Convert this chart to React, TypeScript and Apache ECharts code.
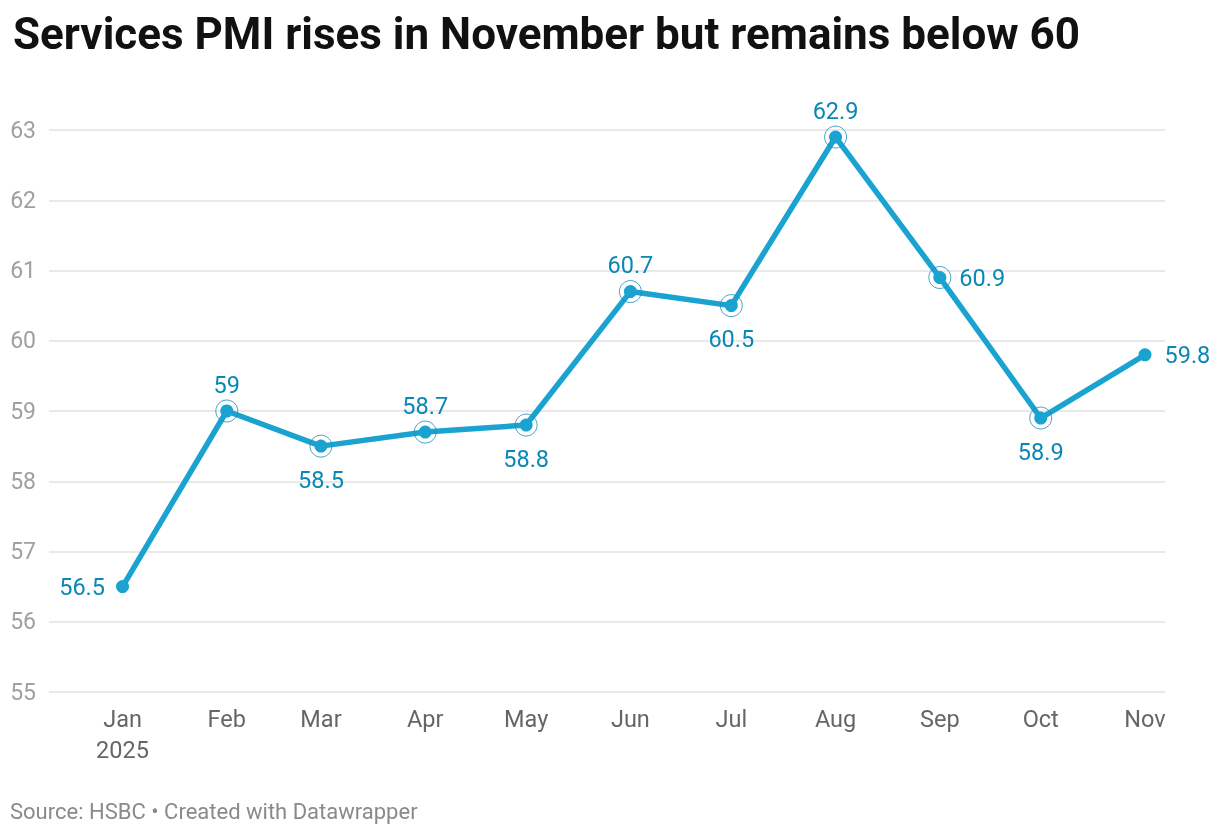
import React, { useEffect, useRef } from "react";
import * as echarts from "echarts";

const months = ["Jan", "Feb", "Mar", "Apr", "May", "Jun", "Jul", "Aug", "Sep", "Oct", "Nov"];
const dates = [
  "2025-01-01", "2025-02-01", "2025-03-01", "2025-04-01", "2025-05-01", "2025-06-01",
  "2025-07-01", "2025-08-01", "2025-09-01", "2025-10-01", "2025-11-01",
];
const yearLabel = "2025";
const pmiValues = [56.5, 59, 58.5, 58.7, 58.8, 60.7, 60.5, 62.9, 60.9, 58.9, 59.8];
const labelSides = ["left", "top", "bottom", "top", "bottom", "top", "bottom", "top", "right", "bottom", "right"];
const ringed = [false, true, true, true, true, true, true, true, true, true, false];
const yTicks = [55, 56, 57, 58, 59, 60, 61, 62, 63];

const LINE = "#1aa3d1";
const LABEL = "#0a88b3";
const FONT = "Roboto, 'Noto Sans', sans-serif";

// day number counted from 1 Jan 2025 (a linear time scale in days)
const dayIndex = (d: string) => {
  const [y, m, dd] = d.split("-").map(Number);
  return Math.round((Date.UTC(y, m - 1, dd) - Date.UTC(2025, 0, 1)) / 86400000);
};

export default function App() {
  const ref = useRef<HTMLDivElement>(null);
  useEffect(() => {
    document.body.style.margin = "0";
    const chart = echarts.init(ref.current!, null, { renderer: "svg" });
    const days = dates.map(dayIndex);
    const distFor = (s: string) => (s === "top" ? 8 : s === "bottom" ? 15 : s === "left" ? 11 : 13);
    const lineData = pmiValues.map((v, i) => ({
      value: [days[i], v],
      label: {
        show: true,
        position: labelSides[i],
        distance: distFor(labelSides[i]),
      },
    }));
    const ringData = pmiValues
      .map((v, i) => (ringed[i] ? [days[i], v] : null))
      .filter((d) => d !== null);
    chart.setOption({
      animation: false,
      textStyle: { fontFamily: FONT },
      title: {
        text: "Services PMI rises in November but remains below 60",
        left: 8,
        top: 7,
        textStyle: { fontSize: 44, fontWeight: "bold", color: "#111", fontFamily: FONT },
      },
      graphic: [
        {
          type: "text",
          left: 10,
          top: 800,
          style: {
            text: "Source: HSBC • Created with Datawrapper",
            fontSize: 22,
            fill: "#8a8a8a",
            fontFamily: FONT,
          },
        },
      ],
      grid: { left: 49, right: 55, top: 130, bottom: 146, containLabel: false },
      xAxis: {
        type: "value",
        min: days[0] - 21.86,
        max: days[days.length - 1] + 5.95,
        axisLine: { show: false },
        axisTick: { show: false },
        splitLine: { show: false },
        axisLabel: {
          customValues: days,
          formatter: (v: number) => {
            const i = days.indexOf(Math.round(v));
            if (i < 0) return "";
            return i === 0 ? months[i] + "\n" + yearLabel : months[i];
          },
          fontSize: 23.5,
          lineHeight: 31,
          color: "#666",
          margin: 11,
          fontFamily: FONT,
        },
      },
      yAxis: {
        type: "value",
        min: yTicks[0],
        max: yTicks[yTicks.length - 1],
        interval: 1,
        axisLine: { show: false },
        axisTick: { show: false },
        axisLabel: { fontSize: 23, color: "#a0a0a0", margin: 13, fontFamily: FONT },
        splitLine: { lineStyle: { color: "#e2e2e2", width: 1.5 } },
      },
      series: [
        {
          type: "line",
          data: lineData,
          symbol: "circle",
          symbolSize: 13,
          lineStyle: { color: LINE, width: 5.5 },
          itemStyle: { color: LINE },
          label: { fontSize: 23.5, color: LABEL, fontFamily: FONT },
          z: 3,
        },
        {
          type: "scatter",
          data: ringData,
          symbol: "circle",
          symbolSize: 22,
          itemStyle: { color: "rgba(0,0,0,0)", borderColor: "#1a8dba", borderWidth: 1 },
          z: 4,
          silent: true,
        },
      ],
    });
    return () => chart.dispose();
  }, []);
  return <div ref={ref} style={{ position: "fixed", left: 0, top: 0, width: 1220, height: 838 }} />;
}
